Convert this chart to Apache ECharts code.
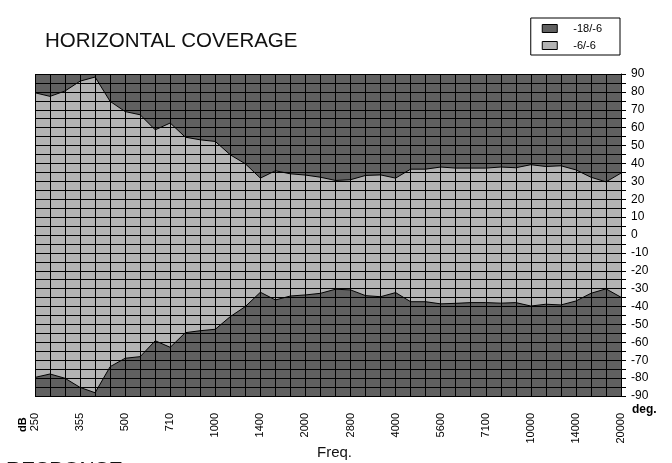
<!DOCTYPE html>
<html>
<head>
<meta charset="utf-8">
<script src="https://cdn.jsdelivr.net/npm/echarts@6/dist/echarts.min.js"></script>
<style>html,body{margin:0;padding:0;background:#fff}#c{width:672px;height:463px}</style>
</head>
<body>
<div id="c"></div>
<script>
const freqs = ['250','280','315','355','400','450','500','560','630','710','800','900','1000','1120','1250','1400','1600','1800','2000','2240','2500','2800','3150','3550','4000','4500','5000','5600','6300','6700','7100','8000','9000','10000','11200','12500','14000','16000','18000','20000'];
const upper = [79.5,77.5,80.5,86,88.3,74.7,69,67.2,58.8,62.6,54.7,53.2,52.3,44.8,39.8,31.8,35.9,34.2,33.5,32.3,30.5,30.9,33.3,33.6,31.8,36.8,36.8,38,37.4,37.4,37.4,38,37.6,39.3,38.3,38.7,36.4,32.3,29.7,34.6];
const lower = [-79.6,-77.7,-80.1,-85.2,-88.2,-73.6,-68.9,-68,-59.1,-62.8,-54.6,-53.5,-52.7,-45.6,-40,-32,-36.3,-34.1,-33.5,-32.6,-30.3,-30.7,-33.9,-34.5,-32.2,-37.3,-37.3,-38.5,-38.2,-37.8,-37.8,-38.1,-37.8,-39.7,-38.7,-39.1,-36.9,-32.6,-30.1,-34.8];
const seriesNames = ['-18/-6','-6/-6'];

const DARK = '#606060', LIGHT = '#b3b3b3';
const FONT = 'Liberation Sans, Arial, sans-serif';
const chart = echarts.init(document.getElementById('c'), null, {renderer:'canvas'});
chart.setOption({
  animation:false,
  textStyle:{fontFamily:FONT},
  grid:{left:35, right:51, top:74, bottom:67, show:true, backgroundColor:DARK, borderWidth:0},
  legend:{
    data:seriesNames, orient:'vertical', right:52, top:18,
    itemWidth:15, itemHeight:8, itemGap:6, icon:'rect',
    borderColor:'#000', borderWidth:1, padding:[5,18,4,11],
    textStyle:{fontSize:11, color:'#000', fontFamily:FONT, padding:[0,0,0,11]},
    itemStyle:{borderColor:'#000', borderWidth:1}
  },
  xAxis:{
    type:'category', data:freqs, boundaryGap:false, z:5,
    axisLine:{show:true, lineStyle:{color:'#000', width:1}},
    axisTick:{show:true, interval:0, length:6, lineStyle:{color:'#000'}},
    splitLine:{show:true, interval:0, lineStyle:{color:'#000', width:1}},
    axisLabel:{interval:2, rotate:90, fontSize:11, color:'#000', margin:17, fontFamily:FONT}
  },
  yAxis:{
    type:'value', min:-90, max:90, interval:5, position:'right', z:5,
    axisLine:{show:true, lineStyle:{color:'#000'}},
    axisTick:{show:true, length:5, lineStyle:{color:'#000'}},
    splitLine:{show:true, lineStyle:{color:'#000', width:1}},
    axisLabel:{fontSize:12, color:'#000', margin:10, fontFamily:FONT,
      formatter:v => (v % 10 === 0 ? String(v) : '')}
  },
  series:[
    {name:'-6/-6', type:'line', data:upper, symbol:'none', z:2,
     lineStyle:{color:'#000', width:1}, itemStyle:{color:LIGHT},
     areaStyle:{color:LIGHT, opacity:1, origin:'start'}},
    {name:'-18/-6', type:'line', data:lower, symbol:'none', z:3,
     lineStyle:{color:'#000', width:1}, itemStyle:{color:DARK},
     areaStyle:{color:DARK, opacity:1, origin:'start'}}
  ],
  graphic:[
    {type:'text', left:45, top:31, style:{text:'HORIZONTAL COVERAGE', font:'20.5px "Liberation Sans", Arial', fill:'#111'}},
    {type:'text', left:6, top:460, style:{text:'RESPONSE', font:'21px "Liberation Sans", Arial', fill:'#111'}},
    {type:'text', left:317, top:445, style:{text:'Freq.', font:'15px "Liberation Sans", Arial', fill:'#111'}},
    {type:'text', left:632, top:404, style:{text:'deg.', font:'bold 12px "Liberation Sans", Arial', fill:'#000'}},
    {type:'text', x:28, y:432, rotation:Math.PI/2, style:{text:'dB', font:'bold 11px "Liberation Sans", Arial', fill:'#000', verticalAlign:'bottom', align:'left'}}
  ]
});
</script>
</body>
</html>
